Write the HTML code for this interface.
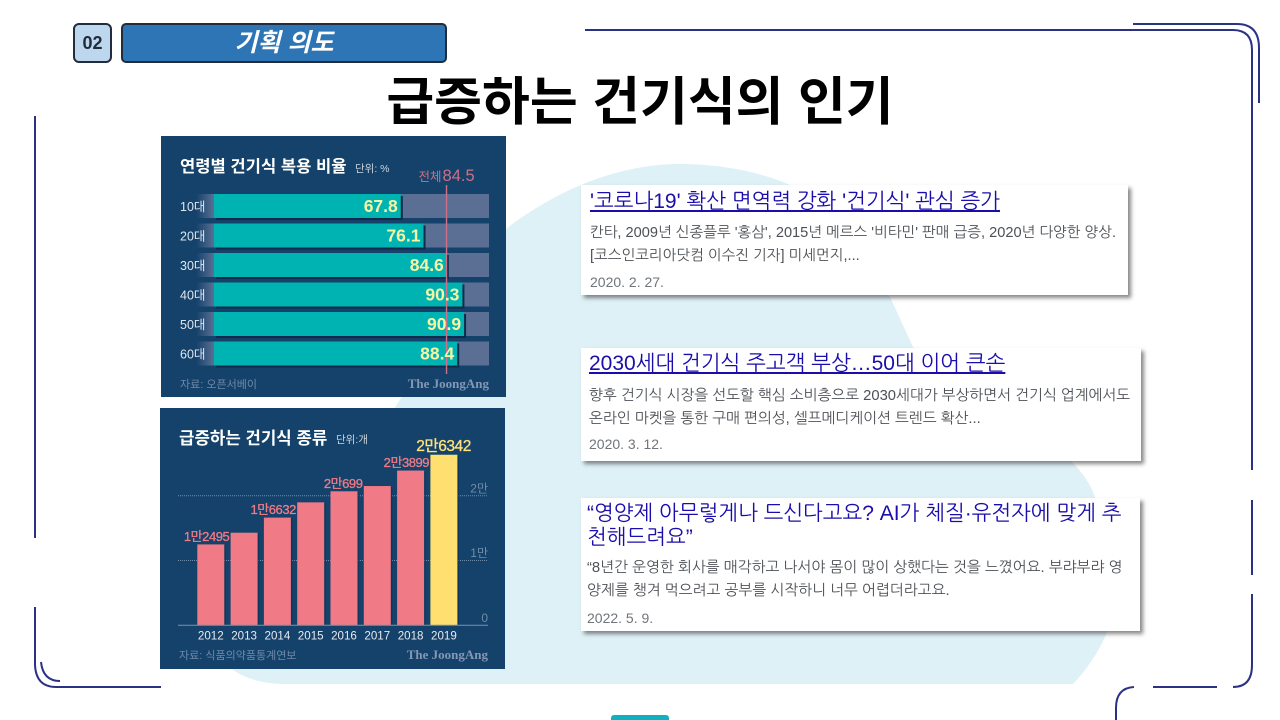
<!DOCTYPE html>
<html lang="ko">
<head>
<meta charset="utf-8">
<title>급증하는 건기식의 인기</title>
<style>
html,body{margin:0;padding:0;background:#fff;}
#slide{position:relative;width:1280px;height:720px;overflow:hidden;background:#fff;font-family:"Liberation Sans","NanumGothic","Noto Sans CJK KR",sans-serif;}
#art{position:absolute;left:0;top:0;}
#art text{font-family:"Liberation Sans","Noto Sans CJK KR",sans-serif;}
.badge{position:absolute;left:73px;top:23px;width:35px;height:36px;border:2px solid #222c3c;border-radius:6px;background:#bdd7ee;color:#222c3c;font:bold 18px/36px "Liberation Sans","DejaVu Sans",sans-serif;text-align:center;}
.pill{position:absolute;left:121px;top:23px;width:322px;height:36px;border:2px solid #222c3c;border-radius:5px;background:#2e75b6;color:#fff;font:italic bold 25px/37px "Liberation Sans","Noto Sans CJK KR",sans-serif;text-align:center;}
.main-title{position:absolute;left:240px;width:800px;top:65px;text-align:center;color:#000;font:bold 52px/76px "Liberation Sans","Noto Sans CJK KR",sans-serif;white-space:nowrap;}
.card{position:absolute;background:#fff;box-shadow:3px 3px 4px rgba(70,70,70,.65);}
.t{position:absolute;white-space:nowrap;}
.h{color:#1a0dab;font-size:21px;line-height:24px;text-decoration:underline;}
.h.plain{text-decoration:none;}
.s{color:#4d5156;font-size:14.6px;line-height:20px;}
.d{color:#70757a;font-size:14px;line-height:20px;}
</style>
</head>
<body>
<div id="slide">
<svg id="art" width="1280" height="720" viewBox="0 0 1280 720" xmlns="http://www.w3.org/2000/svg">
  <path fill="#ddf1f7" d="M680 164C722 164 760 172 790 185L890 297L913 347C960 390 1030 420 1072 462C1085 475 1092 488 1095 497C1104 530 1108 575 1107 632C1100 650 1088 668 1073 684L285 684C262 684 244 678 232 669L507 228C560 188 620 164 680 164Z"/>
  <g fill="none" stroke="#2b3284" stroke-width="2">
    <path d="M585 30H1233Q1252 30 1252 50V470"/>
    <path d="M1133 24H1237Q1259 24 1259 48V103"/>
    <path d="M1252 500V575"/>
    <path d="M1252 594V665Q1252 687 1233 687"/>
    <path d="M1153 687H1217"/>
    <path d="M1134 687Q1116 688 1116 708V720"/>
    <path d="M35 116V538"/>
    <path d="M35 607V665Q36 687 56 687H161"/>
    <path d="M41 662Q43 681 60 681"/>
  </g>
  <rect x="611" y="715" width="58" height="8" rx="3" fill="#0fb0bf"/>
  <g id="ageChart"></g>
  <g id="kindChart"></g>
</svg>

<div class="badge">02</div>
<div class="pill">기획 의도</div>
<div class="main-title">급증하는 건기식의 인기</div>

<div class="card" style="left:581px;top:185px;width:547px;height:110px">
  <a class="t h" style="left:9px;top:5px">'코로나19' 확산 면역력 강화 '건기식' 관심 증가</a>
  <div class="t s" style="left:9px;top:38px">칸타, 2009년 신종플루 '홍삼', 2015년 메르스 '비타민' 판매 급증, 2020년 다양한 양상.</div>
  <div class="t s" style="left:9px;top:61px">[코스인코리아닷컴 이수진 기자] 미세먼지,...</div>
  <div class="t d" style="left:9px;top:87px">2020. 2. 27.</div>
</div>

<div class="card" style="left:581px;top:348px;width:560px;height:113px">
  <a class="t h" style="left:8px;top:4px">2030세대 건기식 주고객 부상…50대 이어 큰손</a>
  <div class="t s" style="left:8px;top:38px;font-size:14.75px">향후 건기식 시장을 선도할 핵심 소비층으로 2030세대가 부상하면서 건기식 업계에서도</div>
  <div class="t s" style="left:8px;top:61px;font-size:14.75px">온라인 마켓을 통한 구매 편의성, 셀프메디케이션 트렌드 확산...</div>
  <div class="t d" style="left:8px;top:86px">2020. 3. 12.</div>
</div>

<div class="card" style="left:581px;top:498px;width:559px;height:133px">
  <a class="t h plain" style="left:6px;top:4px">“영양제 아무렇게나 드신다고요? AI가 체질·유전자에 맞게 추</a>
  <a class="t h plain" style="left:6px;top:28px">천해드려요”</a>
  <div class="t s" style="left:6px;top:60px;font-size:14.8px">“8년간 운영한 회사를 매각하고 나서야 몸이 많이 상했다는 것을 느꼈어요. 부랴부랴 영</div>
  <div class="t s" style="left:6px;top:83px;font-size:14.8px">양제를 챙겨 먹으려고 공부를 시작하니 너무 어렵더라고요.</div>
  <div class="t d" style="left:6px;top:110px">2022. 5. 9.</div>
</div>
</div>

<script>
/* Chart 1: intake rate by age group */
const ageGroups = ['10대', '20대', '30대', '40대', '50대', '60대'];
const ageRates = [67.8, 76.1, 84.6, 90.3, 90.9, 88.4];
const overallRate = [84.5];
const rateMax = [100];

/* Chart 2: number of health-food product kinds */
const kindYears = ['2012', '2013', '2014', '2015', '2016', '2017', '2018', '2019'];
const kindCounts = [12495, 14300, 16632, 18990, 20699, 21510, 23899, 26342];
const kindPrinted = ['1만2495', '', '1만6632', '', '2만699', '', '2만3899', '2만6342'];
const kindTickValues = [0, 10000, 20000];
const kindTickLabels = ['0', '1만', '2만'];

const NS = 'http://www.w3.org/2000/svg';
function el(tag, parent, attrs, txt) {
  const n = document.createElementNS(NS, tag);
  for (const k in attrs) n.setAttribute(k, attrs[k]);
  if (txt !== undefined) n.textContent = txt;
  parent.appendChild(n);
  return n;
}

/* ---------- chart 1 ---------- */
(function () {
  const g = document.getElementById('ageChart');
  const xRate = v => 215 + (489 - 215) * v / rateMax[0];
  const rowTop = i => 194 + 29.5 * i;
  const barH = 24;

  const defs = el('defs', g, {});
  const lg = el('linearGradient', defs, { id: 'trackFade', x1: '0', x2: '1', y1: '0', y2: '0' });
  el('stop', lg, { offset: '0', 'stop-color': '#5a6f93', 'stop-opacity': '0' });
  el('stop', lg, { offset: '1', 'stop-color': '#5a6f93', 'stop-opacity': '1' });

  const panel = el('rect', g, { x: 161, y: 136, width: 345, height: 261, fill: '#14426b' });
  
  

  const title = el('text', g, { x: 180, y: 172, fill: '#fff', 'font-size': 16.6, 'font-weight': 'bold' }, '연령별 건기식 복용 비율');
  
  

  const unit = el('text', g, { x: 355, y: 172, fill: '#cdd6e0', 'font-size': 10.5 }, '단위: %');
  
  

  ageGroups.forEach((name, i) => {
    const fade = el('rect', g, { x: 196, y: rowTop(i), width: 18, height: barH, fill: 'url(#trackFade)' });
    
    

    const track = el('rect', g, { x: 214, y: rowTop(i), width: xRate(rateMax[0]) - 214, height: barH, fill: '#5a6f93' });
    
    

    const shadow = el('rect', g, { x: 216, y: rowTop(i) + 2, width: xRate(ageRates[i]) - 214, height: barH, fill: '#0e2a4a' });
    
    

    const bar = el('rect', g, { x: 214, y: rowTop(i), width: xRate(ageRates[i]) - 214, height: barH, fill: '#00b3b3' });
    
    

    const lab = el('text', g, { x: 180, y: rowTop(i) + 17, fill: '#dfe6ee', 'font-size': 12.5 }, name);
    
    
  });

  const line = el('line', g, { x1: xRate(overallRate[0]), x2: xRate(overallRate[0]), y1: 185, y2: 374, stroke: '#d07088', 'stroke-width': 1.4 });
  
  

  ageGroups.forEach((name, i) => {
    const val = el('text', g, { x: xRate(ageRates[i]) - 3, y: rowTop(i) + 18, fill: '#f6f6a4', 'font-size': 17.5, 'font-weight': 'bold', 'text-anchor': 'end' }, ageRates[i].toFixed(1));
    
    
  });

  const ov1 = el('text', g, { x: xRate(overallRate[0]) - 5, y: 181, fill: '#cf6f86', 'font-size': 12.5, 'text-anchor': 'end' }, '전체');
  
  

  const ov2 = el('text', g, { x: xRate(overallRate[0]) - 4, y: 181, fill: '#cf6f86', 'font-size': 16.5 }, overallRate[0].toFixed(1));
  
  

  const src = el('text', g, { x: 180, y: 388, fill: '#6f89a8', 'font-size': 11 }, '자료: 오픈서베이');
  
  

  const logo = el('text', g, { x: 489, y: 388, fill: '#8497b5', 'font-size': 13, 'font-weight': 'bold', 'text-anchor': 'end', style: 'font-family:"Liberation Serif",serif' }, 'The JoongAng');
  
  
})();

/* ---------- chart 2 ---------- */
(function () {
  const g = document.getElementById('kindChart');
  const yKind = v => 625.3 - (625.3 - 495.8) * v / 20000;
  const xBand = i => 197.3 + 33.3 * i;
  const bw = 27;

  const panel = el('rect', g, { x: 160, y: 408, width: 345, height: 261, fill: '#14426b' });
  
  

  const title = el('text', g, { x: 179, y: 444, fill: '#fff', 'font-size': 16.8, 'font-weight': 'bold' }, '급증하는 건기식 종류');
  
  

  const unit = el('text', g, { x: 336, y: 443, fill: '#cdd6e0', 'font-size': 10.5 }, '단위:개');
  
  

  kindTickValues.forEach((v, i) => {
    if (v > 0) {
      const gl = el('line', g, { x1: 178, x2: 488, y1: yKind(v), y2: yKind(v), stroke: '#6f8cab', 'stroke-width': 1, 'stroke-dasharray': '1 1' });
      
      
    }
    const tl = el('text', g, { x: 488, y: yKind(v) - 3.5, fill: '#6f8cab', 'font-size': 12, 'text-anchor': 'end' }, kindTickLabels[i]);
    
    
  });

  kindYears.forEach((yr, i) => {
    const last = i === kindYears.length - 1;

    const shadow = el('rect', g, { x: xBand(i) + 1.5, y: yKind(kindCounts[i]) + 1, width: bw, height: yKind(0) - yKind(kindCounts[i]) - 1, fill: '#0e3050', opacity: .6 });
    
    

    const bar = el('rect', g, { x: xBand(i), y: yKind(kindCounts[i]), width: bw, height: yKind(0) - yKind(kindCounts[i]), fill: last ? '#ffdf6f' : '#f07a85' });
    
    

    const yl = el('text', g, { x: xBand(i) + bw / 2, y: 639.5, fill: '#e6ebf1', 'font-size': 11.6, 'text-anchor': 'middle' }, yr);
    
    

    if (kindPrinted[i]) {
      const pv = el('text', g, {
        x: xBand(i) + bw + (last ? 13.5 : 5),
        y: yKind(kindCounts[i]) - 3.5,
        fill: last ? '#ffe27a' : '#f07a85',
        stroke: last ? '#ffe27a' : '#f07a85',
        'stroke-width': 0.3,
        'font-size': last ? 15.5 : 13,
        'letter-spacing': -0.45,
        'text-anchor': 'end'
      }, kindPrinted[i]);
      
      
    }
  });

  const axis = el('line', g, { x1: 178, x2: 488, y1: yKind(0), y2: yKind(0), stroke: '#7a93ac', 'stroke-width': 1 });
  
  

  const src = el('text', g, { x: 179, y: 659, fill: '#6f89a8', 'font-size': 11 }, '자료: 식품의약품통계연보');
  
  

  const logo = el('text', g, { x: 488, y: 659, fill: '#8497b5', 'font-size': 13, 'font-weight': 'bold', 'text-anchor': 'end', style: 'font-family:"Liberation Serif",serif' }, 'The JoongAng');
  
  
})();
</script>
</body>
</html>
